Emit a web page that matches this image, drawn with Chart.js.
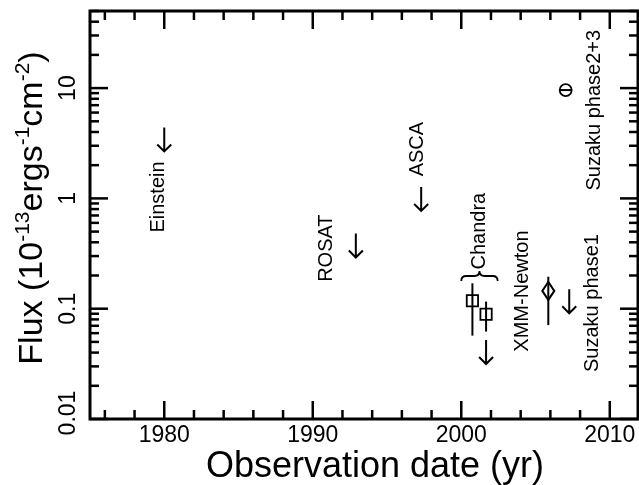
<!DOCTYPE html>
<html>
<head>
<meta charset="utf-8">
<script src="https://cdn.jsdelivr.net/npm/chart.js@4.4.1/dist/chart.umd.min.js"></script>
<style>
  html, body { margin: 0; padding: 0; background: #fff; overflow: hidden; }
  #wrap { width: 639px; height: 485px; position: relative; overflow: hidden; }
</style>
</head>
<body>
<div id="wrap"><canvas id="flux"></canvas></div>
<script>
// upper limits (arrow starts at the value and points down)
const limitYear = [1980, 1992.9, 1997.3, 2001.67, 2007.27];
const limitFlux = [4.4, 0.48, 1.27, 0.052, 0.15];

// Chandra detections
const chandraYear = [2000.75, 2001.67];
const chandraFlux = [0.118, 0.089];
const chandraLow = [0.057, 0.062];
const chandraHigh = [0.17, 0.116];

// XMM-Newton detection
const xmmYear = [2005.86];
const xmmFlux = [0.145];
const xmmLow = [0.071];
const xmmHigh = [0.195];

// Suzaku phase2+3
const suzakuYear = [2007.03];
const suzakuFlux = [9.6];
const suzakuXErr = [0.4];

// brace over the two Chandra points
const braceFrom = 2000.0;
const braceTo = 2002.45;
const braceFlux = 0.198;

// instrument labels, anchored at their centre (year, flux)
const labelText = ["Einstein", "ROSAT", "ASCA", "Chandra", "XMM-Newton", "Suzaku phase1", "Suzaku phase2+3"];
const labelYear = [1979.6, 1990.9, 1997.05, 2001.25, 2004.15, 2008.85, 2009.0];
const labelFlux = [1.03, 0.354, 2.8, 0.505, 0.1445, 0.1125, 6.3];

const xMajor = [1980, 1990, 2000, 2010];
const yMajor = [0.01, 0.1, 1, 10];
const yMajorText = ["0.01", "0.1", "1", "10"];

const FONT = "'Liberation Sans', Arial, sans-serif";

const frameAndMarks = {
  id: "frameAndMarks",
  beforeDatasetsDraw(chart) {
    const ctx = chart.ctx;
    const x = chart.scales.x, y = chart.scales.y;
    ctx.save();
    ctx.strokeStyle = "#000";
    ctx.lineWidth = 2;
    // vertical error bars
    const bars = [];
    chandraYear.forEach((v, i) => bars.push([v, chandraLow[i], chandraHigh[i]]));
    xmmYear.forEach((v, i) => bars.push([v, xmmLow[i], xmmHigh[i]]));
    bars.forEach(([xv, lo, hi]) => {
      const px = x.getPixelForValue(xv);
      ctx.beginPath();
      ctx.moveTo(px, y.getPixelForValue(lo));
      ctx.lineTo(px, y.getPixelForValue(hi));
      ctx.stroke();
    });
    // horizontal bar through the Suzaku circle
    suzakuYear.forEach((v, i) => {
      const py = y.getPixelForValue(suzakuFlux[i]);
      ctx.beginPath();
      ctx.moveTo(x.getPixelForValue(v - suzakuXErr[i]), py);
      ctx.lineTo(x.getPixelForValue(v + suzakuXErr[i]), py);
      ctx.stroke();
    });
    ctx.restore();
  },
  afterDatasetsDraw(chart) {
    const ctx = chart.ctx;
    const x = chart.scales.x, y = chart.scales.y;
    const a = chart.chartArea;
    ctx.save();
    ctx.strokeStyle = "#000";
    ctx.fillStyle = "#000";

    // XMM diamond (tall), drawn at the dataset's own point
    chart.getDatasetMeta(2).data.forEach(pt => {
      ctx.lineWidth = 2;
      ctx.beginPath();
      ctx.moveTo(pt.x, pt.y - 9);
      ctx.lineTo(pt.x + 6, pt.y);
      ctx.lineTo(pt.x, pt.y + 9);
      ctx.lineTo(pt.x - 6, pt.y);
      ctx.closePath();
      ctx.stroke();
    });

    // upper limit arrows
    ctx.lineWidth = 2;
    limitYear.forEach((v, i) => {
      const px = x.getPixelForValue(v);
      const py = y.getPixelForValue(limitFlux[i]);
      const len = 24;
      ctx.beginPath();
      ctx.moveTo(px, py);
      ctx.lineTo(px, py + len);
      ctx.moveTo(px - 7, py + len - 7);
      ctx.lineTo(px, py + len);
      ctx.lineTo(px + 7, py + len - 7);
      ctx.stroke();
    });

    // brace
    const bx1 = x.getPixelForValue(braceFrom);
    const bx2 = x.getPixelForValue(braceTo);
    const bm = (bx1 + bx2) / 2;
    const by = y.getPixelForValue(braceFlux);
    ctx.lineWidth = 1.8;
    ctx.beginPath();
    ctx.moveTo(bx1, by + 5);
    ctx.quadraticCurveTo(bx1, by, bx1 + 5, by);
    ctx.lineTo(bm - 5, by);
    ctx.quadraticCurveTo(bm, by, bm, by - 5);
    ctx.quadraticCurveTo(bm, by, bm + 5, by);
    ctx.lineTo(bx2 - 5, by);
    ctx.quadraticCurveTo(bx2, by, bx2, by + 5);
    ctx.stroke();

    // labels
    ctx.font = "20px " + FONT;
    ctx.textAlign = "center";
    ctx.textBaseline = "middle";
    labelText.forEach((t, i) => {
      ctx.save();
      ctx.translate(x.getPixelForValue(labelYear[i]), y.getPixelForValue(labelFlux[i]));
      ctx.rotate(-Math.PI / 2);
      ctx.fillText(t, 0, 0);
      ctx.restore();
    });

    // frame
    ctx.lineWidth = 3;
    ctx.strokeRect(a.left, a.top, a.right - a.left, a.bottom - a.top);

    // x ticks, both edges
    ctx.lineWidth = 2.5;
    const tick = (x0, y0, x1, y1) => { ctx.beginPath(); ctx.moveTo(x0, y0); ctx.lineTo(x1, y1); ctx.stroke(); };
    for (let yr = Math.ceil(x.min / 2) * 2; yr <= x.max; yr += 2) {
      const px = x.getPixelForValue(yr);
      const len = xMajor.includes(yr) ? 18 : 9;
      tick(px, a.bottom, px, a.bottom - len);
      tick(px, a.top, px, a.top + len);
    }
    // y ticks, both edges
    for (let d = -2; d <= 1; d++) {
      for (let k = 1; k <= 9; k++) {
        const v = k * Math.pow(10, d);
        if (v < y.min || v > y.max) continue;
        const py = y.getPixelForValue(v);
        const len = k === 1 ? 18 : 9;
        tick(a.left, py, a.left + len, py);
        tick(a.right, py, a.right - len, py);
      }
    }

    // tick labels
    ctx.font = "23px " + FONT;
    ctx.textAlign = "center";
    ctx.textBaseline = "middle";
    xMajor.forEach(v => ctx.fillText(String(v), x.getPixelForValue(v), a.bottom + 17));
    yMajor.forEach((v, i) => {
      ctx.save();
      ctx.translate(a.left - 21, Math.min(y.getPixelForValue(v), a.bottom - 6));
      ctx.rotate(-Math.PI / 2);
      ctx.fillText(yMajorText[i], 0, 0);
      ctx.restore();
    });

    // x title
    ctx.font = "36px " + FONT;
    ctx.textBaseline = "alphabetic";
    ctx.fillText("Observation date (yr)", 375, 477);

    // y title with superscripts
    const parts = [
      ["Flux (10", 34, 0], ["-13", 21, -13], ["ergs", 34, 0], ["-1", 21, -13],
      ["cm", 34, 0], ["-2", 21, -13], [")", 34, 0]
    ];
    let total = 0;
    parts.forEach(p => { ctx.font = p[1] + "px " + FONT; total += ctx.measureText(p[0]).width; });
    ctx.save();
    ctx.translate(42, 208);
    ctx.rotate(-Math.PI / 2);
    ctx.textAlign = "left";
    let cx = -total / 2;
    parts.forEach(p => {
      ctx.font = p[1] + "px " + FONT;
      ctx.fillText(p[0], cx, p[2]);
      cx += ctx.measureText(p[0]).width;
    });
    ctx.restore();

    ctx.restore();
  }
};

const hidden = { display: false };

new Chart(document.getElementById("flux"), {
  type: "scatter",
  data: {
    datasets: [
      {
        label: "upper limits",
        data: limitYear.map((v, i) => ({ x: v, y: limitFlux[i] })),
        pointRadius: 0
      },
      {
        label: "Chandra",
        data: chandraYear.map((v, i) => ({ x: v, y: chandraFlux[i] })),
        pointStyle: "rect",
        pointRadius: 8,
        borderColor: "#000",
        borderWidth: 1.8,
        backgroundColor: "rgba(0,0,0,0)"
      },
      {
        label: "XMM-Newton",
        data: xmmYear.map((v, i) => ({ x: v, y: xmmFlux[i] })),
        pointRadius: 0
      },
      {
        label: "Suzaku phase2+3",
        data: suzakuYear.map((v, i) => ({ x: v, y: suzakuFlux[i] })),
        pointStyle: "circle",
        pointRadius: 6,
        borderColor: "#000",
        borderWidth: 1.8,
        backgroundColor: "rgba(0,0,0,0)"
      }
    ]
  },
  options: {
    responsive: true,
    maintainAspectRatio: false,
    animation: false,
    layout: { autoPadding: false, padding: { top: 11, right: 1, left: 0, bottom: 0 } },
    plugins: { legend: hidden, tooltip: { enabled: false } },
    scales: {
      x: {
        type: "linear",
        min: 1975,
        max: 2011.9,
        ticks: hidden,
        grid: hidden,
        border: hidden,
        afterFit: s => { s.height = 66; }
      },
      y: {
        type: "logarithmic",
        min: 0.01,
        max: 50,
        ticks: hidden,
        grid: hidden,
        border: hidden,
        afterFit: s => { s.width = 90; }
      }
    }
  },
  plugins: [frameAndMarks]
});
</script>
</body>
</html>
